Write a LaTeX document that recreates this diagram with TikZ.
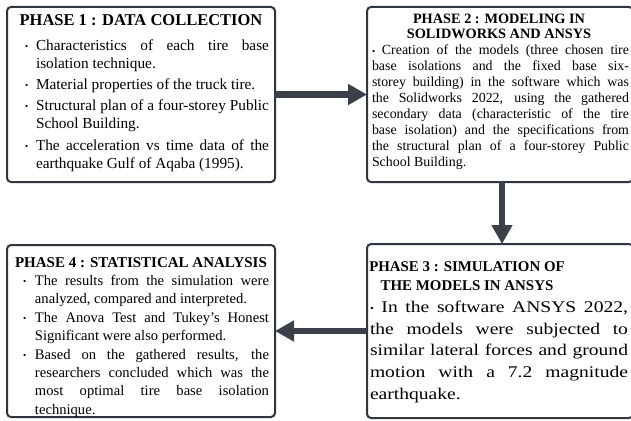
\documentclass[tikz,border=0pt]{standalone}
\usepackage{fontspec}
\setmainfont{Liberation Serif}
\newfontfamily\fwide[FakeStretch=1.2]{Liberation Serif}
\usetikzlibrary{arrows.meta}
\definecolor{boxc}{HTML}{30363F}
\definecolor{arrc}{HTML}{3A414B}
\newcommand{\bul}{{\fontsize{9}{9}\selectfont\raisebox{0.6pt}{\textbullet}}}
\newcommand{\hitem}[2]{\par\noindent\hangindent=#1\hangafter=1\makebox[#1][l]{\bul}#2\par}
\begin{document}
\begin{tikzpicture}[x=1pt,y=-1pt,
  phasebox/.style={draw=boxc,line width=2pt,rounded corners=4pt,inner sep=0pt,outer sep=0pt,anchor=north west,fill=white},
  flow/.style={draw=arrc,line width=6.5pt,-{Triangle[length=19pt,width=20pt]}},
  txt/.style={inner sep=0pt,outer sep=0pt,anchor=north west,align=justify},
  ttl/.style={inner sep=0pt,outer sep=0pt,anchor=base,align=center}]
\useasboundingbox (0,0) rectangle (631,420);
% boxes
\node[phasebox,minimum width=268pt,minimum height=175pt] (b1) at (7,7) {};
\node[phasebox,minimum width=266pt,minimum height=175pt] (b2) at (367,7) {};
\node[phasebox,minimum width=266pt,minimum height=174pt] (b3) at (367,244) {};
\node[phasebox,minimum width=268pt,minimum height=172pt] (b4) at (7,245) {};
% phase 1
\node[ttl,font=\fontsize{16.5}{18}\selectfont\bfseries] (t1) at (141,26) {PHASE 1 : DATA COLLECTION};
\node[txt,text width=244pt,font=\fontsize{15.3}{18.5}\selectfont] (d1) at (25,29) {\hyphenpenalty=10000\parskip=2.5pt
\hitem{11pt}{Characteristics of each tire base isolation technique.}
\hitem{11pt}{Material properties of the truck tire.}
\hitem{11pt}{Structural plan of a four-storey Public School Building.}
\hitem{11pt}{The acceleration vs time data of the earthquake Gulf of Aqaba (1995).}};
% phase 2
\node[ttl,font=\fontsize{14.3}{15}\selectfont\bfseries] (t2) at (499,38) {PHASE 2 : MODELING IN\\SOLIDWORKS AND ANSYS};
\node[txt,text width=257pt,font=\fontsize{13.9}{16}\selectfont] (d2) at (372,45) {\hyphenpenalty=10000\spaceskip=0.25em plus 0.4em minus 0.12em
\noindent\bul\ Creation of the models (three chosen tire\linebreak base isolations and the fixed base six-\linebreak storey building) in the software which was\linebreak the Solidworks 2022, using the gathered\linebreak secondary data (characteristic of the tire\linebreak base isolation) and the specifications from\linebreak the structural plan of a four-storey Public\linebreak School Building.\par};
% phase 3
\node[ttl,font=\fontsize{14.9}{19}\selectfont\bfseries] (t3) at (467,290) {PHASE 3 : SIMULATION OF\\THE MODELS IN ANSYS};
\node[txt,text width=258pt,font=\fwide\fontsize{16.3}{21.7}\selectfont] (d3) at (370,301) {\hyphenpenalty=10000
\noindent\bul\ In the software ANSYS 2022, the models were subjected to similar lateral forces and ground motion with a 7.2 magnitude earthquake.\par};
% phase 4
\node[ttl,font=\fontsize{15}{16}\selectfont\bfseries] (t4) at (141,267) {PHASE 4 : STATISTICAL ANALYSIS};
\node[txt,text width=246pt,font=\fontsize{14.6}{18.4}\selectfont] (d4) at (23,267) {\hyphenpenalty=10000\spaceskip=0.25em plus 0.4em minus 0.12em
\hitem{12pt}{The results from the simulation were analyzed, compared and interpreted.}
\hitem{12pt}{The Anova Test and Tukey's Honest Significant were also performed.}
\hitem{12pt}{Based on the gathered results, the researchers concluded which was the most optimal tire base isolation technique.}};
% arrows
\draw[flow] (b1.east) -- (b2.west);
\draw[flow] ([xshift=2pt]b2.south) -- ([xshift=2pt]b3.north);
\draw[flow] (b3.west) -- (b4.east);
\end{tikzpicture}
\end{document}
